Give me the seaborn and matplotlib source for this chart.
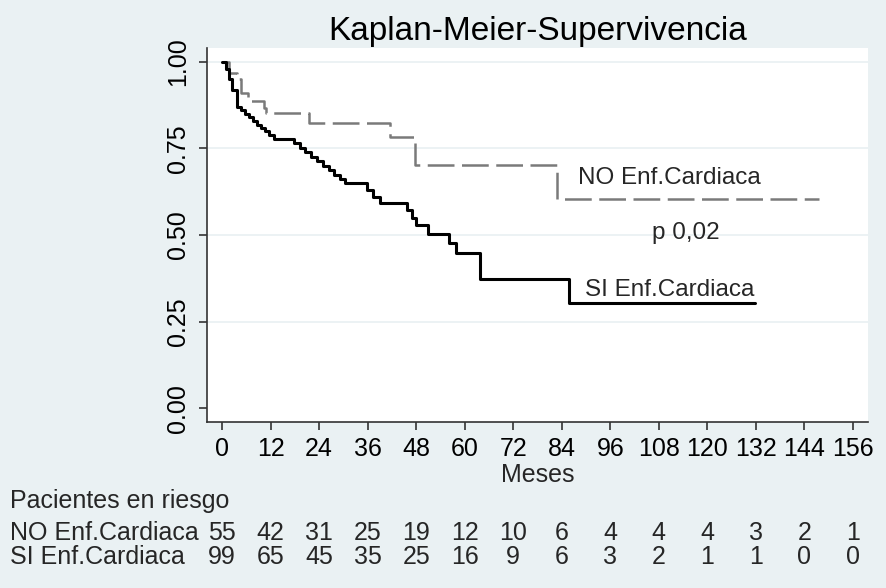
import matplotlib
matplotlib.use("Agg")
import matplotlib.pyplot as plt
import matplotlib.transforms as mtransforms
import seaborn as sns
import pandas as pd

# ---- data ----
no_times = [0, 1.8, 3.7, 4.7, 6.5, 10.3, 11.0, 21.6, 41.5, 47.8, 82.7, 147.5]
no_surv = [1.0, 0.968, 0.951, 0.911, 0.888, 0.868, 0.851, 0.824, 0.784, 0.703, 0.604, 0.604]

si_times = [0, 1.1, 1.8, 2.5, 3.6, 4.8, 5.7, 6.6, 7.6, 8.6, 9.6, 10.6, 11.7, 12.8,
            17.8, 19.2, 20.6, 22.0, 23.5, 25.0, 26.4, 27.8, 29.1, 30.4,
            35.8, 37.3, 39.1, 45.7, 47.0, 48.0, 51.0, 56.0, 57.8, 63.8, 85.8, 131.8]
si_surv = [1.0, 0.98, 0.95, 0.92, 0.871, 0.861, 0.850, 0.840, 0.830, 0.819, 0.809, 0.799, 0.788, 0.778,
           0.765, 0.752, 0.739, 0.726, 0.713, 0.700, 0.687, 0.674, 0.662, 0.649,
           0.630, 0.611, 0.592, 0.572, 0.550, 0.529, 0.503, 0.477, 0.448, 0.374, 0.303, 0.303]

x_ticks = [0, 12, 24, 36, 48, 60, 72, 84, 96, 108, 120, 132, 144, 156]
y_ticks = [0.0, 0.25, 0.5, 0.75, 1.0]
y_ticklabels = ["0.00", "0.25", "0.50", "0.75", "1.00"]

groups = ["NO Enf.Cardiaca", "SI Enf.Cardiaca"]
risk_no = [55, 42, 31, 25, 19, 12, 10, 6, 4, 4, 4, 3, 2, 1]
risk_si = [99, 65, 45, 35, 25, 16, 9, 6, 3, 2, 1, 1, 0, 0]

title = "Kaplan-Meier-Supervivencia"
xlabel = "Meses"
risk_title = "Pacientes en riesgo"
p_text = "p 0,02"

# ---- styling ----
sns.set_theme(style="white")
plt.rcParams["font.family"] = ["Liberation Sans", "DejaVu Sans"]

BG = "#EAF1F3"
W, H = 886, 588
fig = plt.figure(figsize=(W / 100, H / 100), dpi=100, facecolor=BG)
ax = fig.add_axes([207 / W, 1 - 422 / H, (868 - 207) / W, (422 - 48) / H])
ax.set_facecolor("white")

df_no = pd.DataFrame({"t": no_times, "S": no_surv})
df_si = pd.DataFrame({"t": si_times, "S": si_surv})

for yv in [0.25, 0.5, 0.75, 1.0]:
    ax.axhline(yv, color="#EAF1F3", lw=1.3, zorder=0)

sns.lineplot(data=df_no, x="t", y="S", ax=ax, drawstyle="steps-post", estimator=None,
             sort=False, color="#7a7a7a", lw=1.8, linestyle=(0, (10.7, 3.0)))
sns.lineplot(data=df_si, x="t", y="S", ax=ax, drawstyle="steps-post", estimator=None,
             sort=False, color="black", lw=2.2)

ax.set_xlim(-3.7, 159.7)
ax.set_ylim(-0.04, 1.04)
ax.set_xticks(x_ticks)
ax.set_xticklabels([str(v) for v in x_ticks])
ax.set_yticks(y_ticks)
ax.set_yticklabels(y_ticklabels, rotation=90, va="center")
ax.set_xlabel("")
ax.set_ylabel("")

for s in ["top", "right"]:
    ax.spines[s].set_visible(False)
for s in ["left", "bottom"]:
    ax.spines[s].set_color("#333333")
    ax.spines[s].set_linewidth(1.2)

ax.tick_params(axis="both", which="major", direction="out", length=6, width=1.2,
               color="#333333", labelcolor="black")
ax.tick_params(axis="x", labelsize=18, pad=5)
ax.tick_params(axis="y", labelsize=18, pad=6)
ax.tick_params(left=True, bottom=True)

ax.set_title(title, fontsize=24, pad=6, color="black")

# curve labels
ax.text(88.0, 0.665, groups[0], fontsize=17.5, va="center", ha="left")
ax.text(106.3, 0.506, p_text, fontsize=17.5, va="center", ha="left")
ax.text(89.7, 0.341, groups[1], fontsize=17.5, va="center", ha="left")

# x label
fig.text(537.5 / W, 1 - 475 / H, xlabel, fontsize=18, ha="center", va="center")

# risk table
fig.text(10 / W, 1 - 501 / H, risk_title, fontsize=18, ha="left", va="center")
fig.text(10 / W, 1 - 533 / H, groups[0], fontsize=18, ha="left", va="center")
fig.text(10 / W, 1 - 557 / H, groups[1], fontsize=18, ha="left", va="center")
trans = mtransforms.blended_transform_factory(ax.transData, fig.transFigure)
for xv, a, b in zip(x_ticks, risk_no, risk_si):
    ax.text(xv, 1 - 533 / H, str(a), transform=trans, fontsize=18, ha="center", va="center", clip_on=False)
    ax.text(xv, 1 - 557 / H, str(b), transform=trans, fontsize=18, ha="center", va="center", clip_on=False)

fig.savefig("out.png", dpi=100, facecolor=BG)
